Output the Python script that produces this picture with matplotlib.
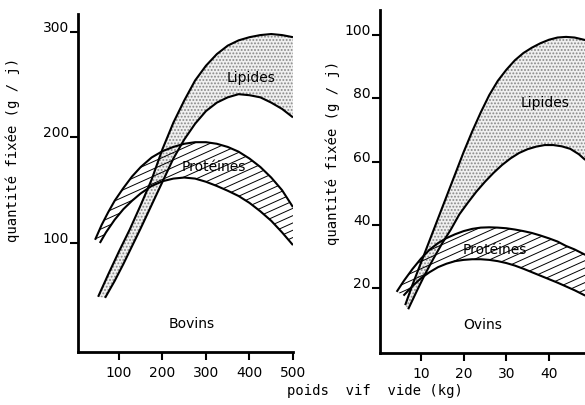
import numpy as np
import matplotlib
matplotlib.use('Agg')
import matplotlib.pyplot as plt

# Bovins (weight in kg, fixed amount in g/d)
bov_lip_hi_x = [52, 75, 100, 125, 150, 175, 200, 225, 250, 275, 300, 325, 350, 375, 400, 425, 450, 475, 500]
bov_lip_hi_y = [49, 70, 92, 113, 136, 160, 189, 214, 235, 254, 268, 279, 287, 292, 295, 297, 298, 297, 295]
bov_lip_lo_x = [68, 90, 110, 130, 150, 175, 200, 225, 250, 275, 300, 325, 350, 375, 400, 425, 450, 475, 500]
bov_lip_lo_y = [48, 64, 80, 97, 114, 136, 158, 180, 198, 213, 225, 233, 238, 241, 240, 238, 233, 227, 219]
bov_prot_hi_x = [45, 60, 75, 90, 110, 130, 150, 175, 200, 225, 250, 275, 300, 325, 350, 375, 400, 425, 450, 475, 500]
bov_prot_hi_y = [103, 117, 129, 140, 152, 163, 172, 181, 187, 191, 194, 195.5, 195.5, 194, 191, 186.5, 180, 172, 162, 150, 134]
bov_prot_lo_x = [56, 70, 90, 110, 130, 150, 175, 200, 225, 250, 275, 300, 325, 350, 375, 400, 425, 450, 475, 500]
bov_prot_lo_y = [100, 110, 122, 132, 140, 147, 154, 158.5, 161, 162, 161, 158, 154, 149.5, 144.5, 138, 130, 121, 110, 98]

# Ovins
ov_lip_hi_x = [6.3, 8, 10, 12, 14, 16, 18, 20, 22, 24, 26, 28, 30, 32, 34, 36, 38, 40, 42, 44, 46, 48.5]
ov_lip_hi_y = [14.6, 21, 28, 35, 42, 49, 56, 63, 69.5, 75.5, 81, 85.5, 89, 92, 94.3, 96, 97.4, 98.5, 99.2, 99.4, 99.2, 98.4]
ov_lip_lo_x = [7, 9, 11, 13, 15, 17, 19, 21, 23, 25, 27, 29, 31, 33, 35, 37, 39, 41, 43, 45, 47, 48.5]
ov_lip_lo_y = [13.3, 19, 24.5, 29.5, 34.2, 38.5, 43.3, 47, 50.5, 53.6, 56.4, 58.9, 61, 62.7, 63.9, 64.7, 65.2, 65.2, 64.8, 64, 62.3, 60.5]
ov_prot_hi_x = [4.3, 6, 8, 10, 12, 14, 16, 18, 20, 22, 24, 26, 28, 30, 32, 34, 36, 38, 40, 42, 44, 46, 48.5]
ov_prot_hi_y = [18.8, 22.3, 26.0, 29.3, 32.1, 34.2, 35.8, 37.0, 38.0, 38.7, 39.1, 39.2, 39.1, 38.9, 38.5, 38.0, 37.4, 36.6, 35.7, 34.7, 33.3, 32.2, 30.5]
ov_prot_lo_x = [5.9, 8, 10, 12, 14, 16, 18, 20, 22, 24, 26, 28, 30, 32, 34, 36, 38, 40, 42, 44, 46, 48.5]
ov_prot_lo_y = [17.6, 20.6, 23.1, 25.0, 26.6, 27.7, 28.5, 28.9, 29.1, 29.1, 28.9, 28.5, 27.9, 27.1, 26.1, 25.0, 23.9, 22.8, 21.7, 20.5, 19.3, 17.6]

bov_xticks = [100, 200, 300, 400, 500]
bov_yticks = [100, 200, 300]
ov_xticks = [10, 20, 30, 40]
ov_yticks = [20, 40, 60, 80, 100]

plt.rcParams['font.family'] = 'DejaVu Sans'
plt.rcParams['font.size'] = 10
plt.rcParams['hatch.linewidth'] = 0.9

fig = plt.figure(figsize=(5.85, 4.05), dpi=100)
ax1 = fig.add_axes([0.1333, 0.1309, 0.3675, 0.8346])
ax2 = fig.add_axes([0.6496, 0.1284, 0.3504, 0.8469])


def band(ax, hx, hy, lx, ly):
    # closed polygon: upper curve then lower curve backwards
    px = list(hx) + list(lx)[::-1]
    py = list(hy) + list(ly)[::-1]
    return ax.fill(px, py, facecolor='none', edgecolor='none', linewidth=0)[0]


def stipple(ax, hx, hy, lx, ly):
    px = list(hx) + list(lx)[::-1]
    py = list(hy) + list(ly)[::-1]
    ax.fill(px, py, facecolor='#f0f0f0', edgecolor='#888888', linewidth=0, hatch='.....')


def hatch_lines(ax, poly, slope_px=0.45, step_px=7.3):
    bb = ax.get_window_extent()
    s = slope_px * bb.width / bb.height
    step = step_px / bb.height
    for c in np.arange(-s - 0.05, 1.05, step):
        ax.plot([0, 1], [c, c + s], transform=ax.transAxes, color='black',
                lw=0.7, clip_path=poly)


def panel(ax, lhx, lhy, llx, lly, phx, phy, plx, ply):
    stipple(ax, lhx, lhy, llx, lly)
    poly = band(ax, phx, phy, plx, ply)
    hatch_lines(ax, poly)
    for x, y in [(lhx, lhy), (llx, lly), (phx, phy), (plx, ply)]:
        ax.plot(x, y, color='black', lw=1.5, solid_capstyle='butt',
                solid_joinstyle='round')
    for s in ['top', 'right']:
        ax.spines[s].set_visible(False)
    for s in ['left', 'bottom']:
        ax.spines[s].set_linewidth(2)
    ax.tick_params(direction='out', length=6, width=1.5, labelsize=10)
    ax.tick_params(axis='y', pad=0.5)
    ax.tick_params(axis='x', pad=4)


panel(ax1, bov_lip_hi_x, bov_lip_hi_y, bov_lip_lo_x, bov_lip_lo_y,
      bov_prot_hi_x, bov_prot_hi_y, bov_prot_lo_x, bov_prot_lo_y)
ax1.set_xlim(5.7, 500)
ax1.set_ylim(-3.3, 317)
ax1.set_xticks(bov_xticks)
ax1.set_yticks(bov_yticks)
ax1.text(403, 256, 'Lipides', ha='center', va='center', fontsize=10)
ax1.text(317, 172, 'Protéines', ha='center', va='center', fontsize=10)
ax1.text(267, 23, 'Bovins', ha='center', va='center', fontsize=10)

panel(ax2, ov_lip_hi_x, ov_lip_hi_y, ov_lip_lo_x, ov_lip_lo_y,
      ov_prot_hi_x, ov_prot_hi_y, ov_prot_lo_x, ov_prot_lo_y)
ax2.set_xlim(0.4, 48.44)
ax2.set_ylim(-0.54, 107.9)
ax2.set_xticks(ov_xticks)
ax2.set_yticks(ov_yticks)
ax2.text(39, 78.5, 'Lipides', ha='center', va='center', fontsize=10)
ax2.text(27.3, 32, 'Protéines', ha='center', va='center', fontsize=10)
ax2.text(24.5, 8.3, 'Ovins', ha='center', va='center', fontsize=10)

for ax in (ax1, ax2):
    for t in ax.get_yticklabels():
        t.set_verticalalignment('baseline')

fig.text(13 / 585, 1 - 150 / 405, 'quantité fixée (g / j)', rotation=90,
         ha='center', va='center', fontsize=10, family='DejaVu Sans Mono')
fig.text(333 / 585, 1 - 153 / 405, 'quantité fixée (g / j)', rotation=90,
         ha='center', va='center', fontsize=10, family='DejaVu Sans Mono')
fig.text(375 / 585, 1 - 391 / 405, 'poids  vif  vide (kg)', ha='center',
         va='center', fontsize=10, family='DejaVu Sans Mono')

fig.savefig('out.png', dpi=100, facecolor='white')
